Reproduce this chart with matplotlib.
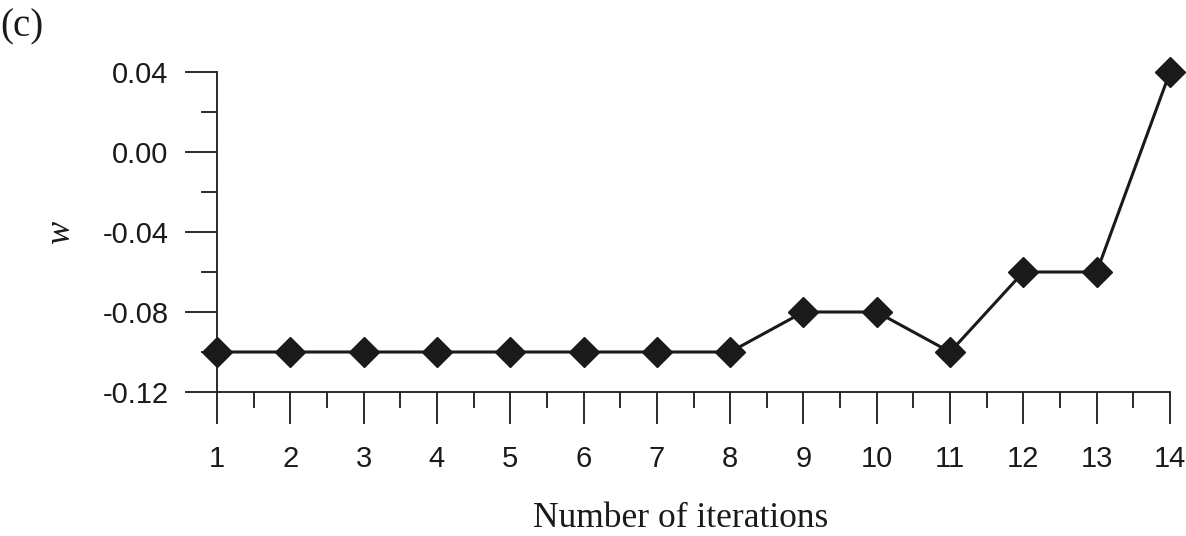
import matplotlib
matplotlib.use("Agg")
import matplotlib.pyplot as plt
from matplotlib.ticker import MultipleLocator, FormatStrFormatter

plt.rcParams['axes.unicode_minus'] = False

iterations = [1, 2, 3, 4, 5, 6, 7, 8, 9, 10, 11, 12, 13, 14]
w_values = [-0.10, -0.10, -0.10, -0.10, -0.10, -0.10, -0.10, -0.10,
            -0.08, -0.08, -0.10, -0.06, -0.06, 0.04]

fig = plt.figure(figsize=(11.86, 5.36), dpi=100)
ax = fig.add_axes([217 / 1186, 144 / 536, (1170 - 217) / 1186, 320 / 536])

ax.plot(iterations, w_values, color='#1a1a1a', linewidth=2.2, marker='D',
        markersize=15.5, markerfacecolor='#1a1a1a', markeredgecolor='#1a1a1a',
        clip_on=False, zorder=3)

ax.set_xlim(1, 14)
ax.set_ylim(-0.12, 0.04)

ax.spines['top'].set_visible(False)
ax.spines['right'].set_visible(False)
for s in ('left', 'bottom'):
    ax.spines[s].set_linewidth(1.3)
    ax.spines[s].set_color('#1a1a1a')

ax.xaxis.set_major_locator(MultipleLocator(1))
ax.xaxis.set_minor_locator(MultipleLocator(0.5))
ax.yaxis.set_major_locator(MultipleLocator(0.04))
ax.yaxis.set_minor_locator(MultipleLocator(0.02))
ax.yaxis.set_major_formatter(FormatStrFormatter('%.2f'))

ax.tick_params(which='major', length=23, width=1.3, color='#1a1a1a')
ax.tick_params(which='minor', length=11.5, width=1.3, color='#1a1a1a')
ax.tick_params(axis='x', which='major', pad=15)
ax.tick_params(axis='y', which='major', pad=12)
for lab in ax.get_xticklabels() + ax.get_yticklabels():
    lab.set_family('Liberation Sans')
    lab.set_fontsize(21)
    lab.set_color('#1a1a1a')

fig.text(681 / 1186, 1 - 527 / 536, 'Number of iterations',
         family='Liberation Serif', fontsize=25.5, color='#1a1a1a',
         ha='center', va='baseline')
ax.set_ylabel('w', family='Liberation Serif', style='italic', fontsize=25,
              color='#1a1a1a', labelpad=18)

fig.text(0.0, 0.985, '(c)', family='Liberation Serif', fontsize=28,
         color='#1a1a1a', va='top', ha='left')

fig.savefig('out.png', dpi=100)
